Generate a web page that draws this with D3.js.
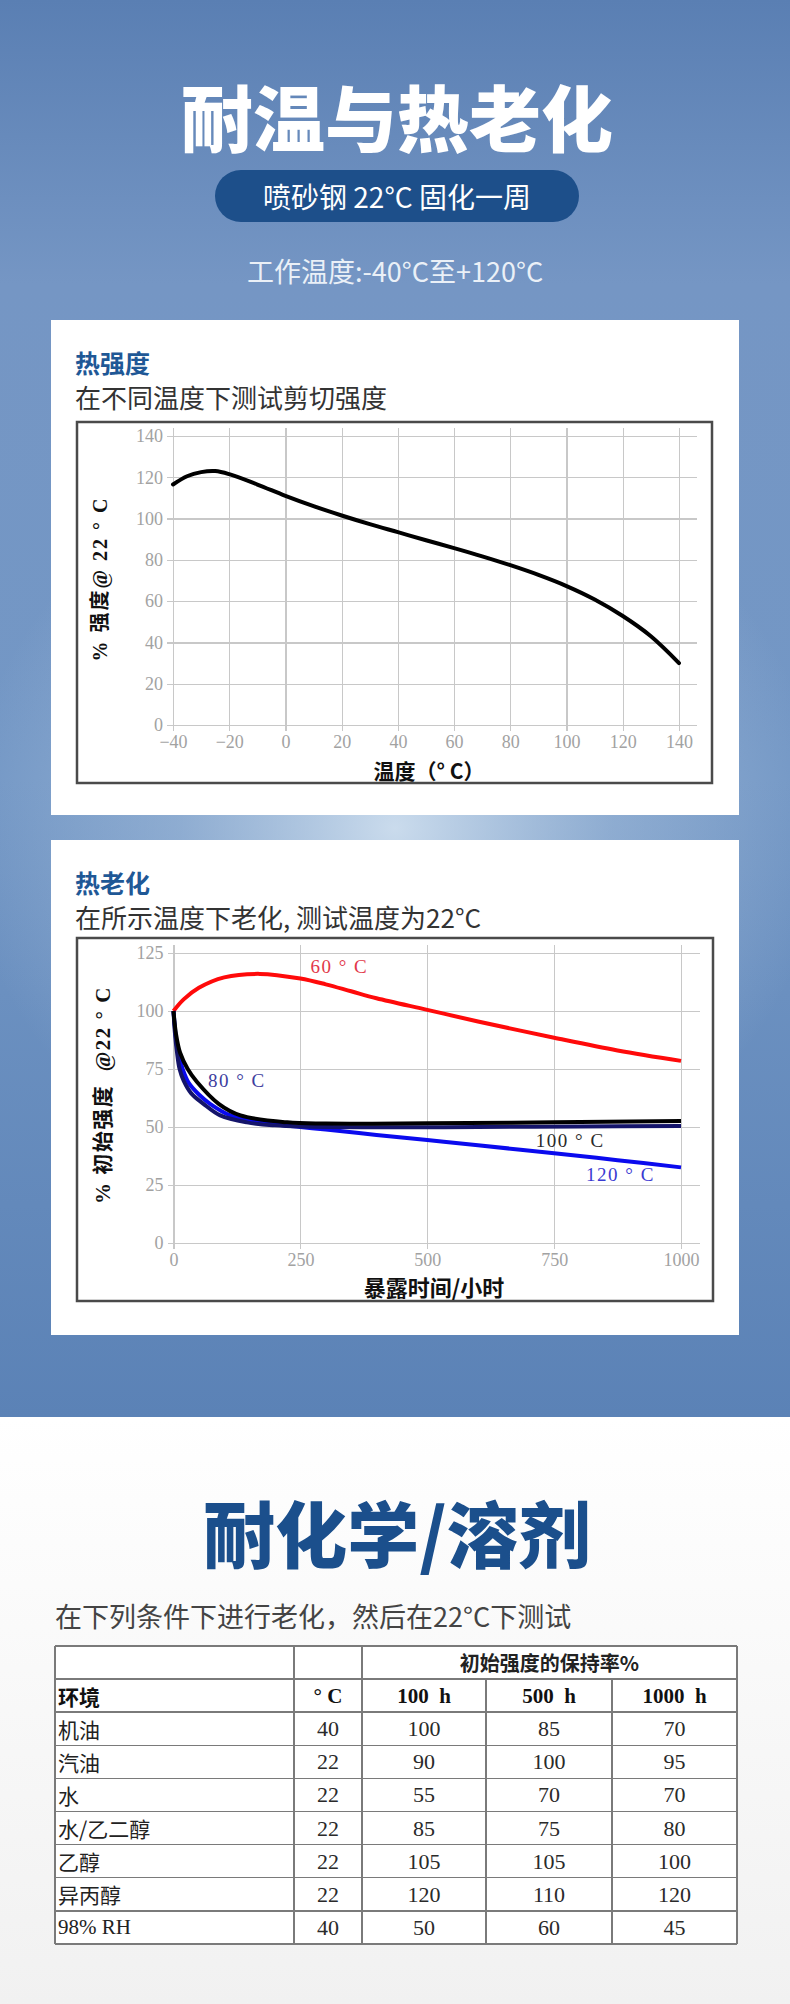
<!doctype html>
<html>
<head>
<meta charset="utf-8">
<title>耐温与热老化</title>
<script src="https://d3js.org/d3.v7.min.js"></script>
<style>
    body {margin:0; background:#fff;}
    svg {display:block;}
    text {white-space:pre;}
    .cjk {font-family:"Noto Sans CJK SC", "Noto Sans", sans-serif;}
    .serif {font-family:"Liberation Serif", "DejaVu Serif", "Noto Sans CJK SC", serif;}
    .axis line {stroke:#c8c8c8; stroke-width:1.2; shape-rendering:crispEdges;}
    .axis text {fill:#a2a2a2; font-size:18px; font-family:"Liberation Serif", "DejaVu Serif", serif;}
    .tbl line {stroke:#7a7a7a; stroke-width:1.5; shape-rendering:crispEdges;}
</style>
</head>
<body>
<script>
"use strict";
var W = 790, H = 2004;

// 热强度 - strength vs test temperature
var heatTemp = [-40, -35, -30, -25, -20, -10, 0, 10, 20, 30, 40, 50, 60, 70, 80, 90, 100, 110, 120, 130, 140];
var heatStrength = [116.5, 120.5, 122.5, 123, 121.5, 116.5, 111, 106, 101.5, 97.3, 93.4, 89.5, 85.7, 81.7, 77.4, 72.7, 67.3, 60.8, 52.8, 43, 30];
var heatXTicks = [-40, -20, 0, 20, 40, 60, 80, 100, 120, 140];
var heatYTicks = [0, 20, 40, 60, 80, 100, 120, 140];

// 热老化 - retained strength vs exposure hours
var age60Hours = [0, 20, 50, 100, 170, 250, 300, 350, 400, 500, 600, 750, 875, 1000];
var age60Values = [100, 105, 110, 114.5, 116, 114, 111.5, 108.5, 105.5, 100.5, 95.5, 88.5, 83, 78.5];
var age80Hours = [0, 3, 7, 12, 20, 35, 59, 92, 145, 200, 250, 400, 600, 800, 1000];
var age80Values = [100, 90, 82, 75, 70, 64.5, 60, 55, 52, 50.7, 50.2, 49.9, 50, 50.2, 50.4];
var age100Hours = [0, 5, 13, 28, 46, 89, 132, 224, 300, 500, 750, 1000];
var age100Values = [100, 90, 82, 75, 69.5, 60, 55, 52, 51.5, 51.6, 52, 52.6];
var age120Hours = [0, 4, 9, 18, 30, 50, 72, 112, 171, 250, 300, 400, 500, 600, 750, 875, 1000];
var age120Values = [100, 90, 82, 75, 69, 64, 60, 55, 52, 50, 48.9, 46.6, 44.4, 42.1, 38.7, 35.7, 32.6];
var ageNames = ["60 ° C", "80 ° C", "100 ° C", "120 ° C"];
var ageLabelHours = [270, 68, 714, 813];
var ageLabelValues = [119, 70, 44, 29.5];
var ageXTicks = [0, 250, 500, 750, 1000];
var ageYTicks = [0, 25, 50, 75, 100, 125];

// 耐化学/溶剂 table
var envNames = ["机油", "汽油", "水", "水/乙二醇", "乙醇", "异丙醇", "98% RH"];
var envTemps = [40, 22, 22, 22, 22, 22, 40];
var keep100h = [100, 90, 55, 85, 105, 120, 50];
var keep500h = [85, 100, 70, 75, 105, 110, 60];
var keep1000h = [70, 95, 70, 80, 100, 120, 45];
var tableHead = ["环境", "° C", "100  h", "500  h", "1000  h"];

var svg = d3.select("body").append("svg").attr("width", W).attr("height", H);
var defs = svg.append("defs");

var lin = defs.append("linearGradient").attr("id", "bgLin").attr("x1", 0).attr("y1", 0).attr("x2", 0).attr("y2", 1);
lin.append("stop").attr("offset", 0).attr("stop-color", "#5a7fb3");
lin.append("stop").attr("offset", 0.2).attr("stop-color", "#7596c4");
lin.append("stop").attr("offset", 0.55).attr("stop-color", "#7397c5");
lin.append("stop").attr("offset", 1).attr("stop-color", "#5b82b6");

var rad = defs.append("radialGradient").attr("id", "bgRad").attr("gradientUnits", "userSpaceOnUse")
    .attr("cx", 395).attr("cy", 828).attr("r", 430)
    .attr("gradientTransform", "translate(395,828) scale(1,0.9) translate(-395,-828)");
rad.append("stop").attr("offset", 0).attr("stop-color", "#d4e3f1").attr("stop-opacity", 0.9);
rad.append("stop").attr("offset", 0.5).attr("stop-color", "#c4d7ea").attr("stop-opacity", 0.35);
rad.append("stop").attr("offset", 1).attr("stop-color", "#c4d7ea").attr("stop-opacity", 0);

var low = defs.append("linearGradient").attr("id", "bgLow").attr("x1", 0).attr("y1", 0).attr("x2", 0).attr("y2", 1);
low.append("stop").attr("offset", 0).attr("stop-color", "#ffffff");
low.append("stop").attr("offset", 1).attr("stop-color", "#f1f1f1");

svg.append("rect").attr("width", W).attr("height", 1417).attr("fill", "url(#bgLin)");
svg.append("rect").attr("width", W).attr("height", 1417).attr("fill", "url(#bgRad)");
svg.append("rect").attr("y", 1417).attr("width", W).attr("height", H - 1417).attr("fill", "url(#bgLow)");

// header
svg.append("text").attr("class", "cjk").attr("x", 397).attr("y", 114)
    .attr("text-anchor", "middle").attr("dominant-baseline", "central")
    .attr("font-size", 72).attr("font-weight", 900).attr("fill", "#fff").text("耐温与热老化");
svg.append("rect").attr("x", 215).attr("y", 170).attr("width", 364).attr("height", 52).attr("rx", 26)
    .attr("fill", "#1d4f8a");
svg.append("text").attr("class", "cjk").attr("x", 397).attr("y", 196)
    .attr("text-anchor", "middle").attr("dominant-baseline", "central")
    .attr("font-size", 28).attr("fill", "#fff").text("喷砂钢 22°C 固化一周");
svg.append("text").attr("class", "cjk").attr("x", 395).attr("y", 270)
    .attr("text-anchor", "middle").attr("dominant-baseline", "central")
    .attr("font-size", 27).attr("fill", "#eaf0f7").text("工作温度:-40°C至+120°C");

function card(top, title, sub) {
    svg.append("rect").attr("x", 51).attr("y", top).attr("width", 688).attr("height", 495).attr("fill", "#fff");
    svg.append("text").attr("class", "cjk").attr("x", 75).attr("y", top + 42)
        .attr("dominant-baseline", "central").attr("font-size", 25).attr("font-weight", 700)
        .attr("fill", "#1f5896").text(title);
    svg.append("text").attr("class", "cjk").attr("x", 75).attr("y", top + 76)
        .attr("dominant-baseline", "central").attr("font-size", 26)
        .attr("fill", "#333").text(sub);
}

function chart(o) {
    var g = svg.append("g");
    g.append("rect").attr("x", o.frame[0]).attr("y", o.frame[1]).attr("width", o.frame[2]).attr("height", o.frame[3])
        .attr("fill", "#fff").attr("stroke", "#4a4a4a").attr("stroke-width", 2.5);
    var x = d3.scaleLinear().domain(o.xDomain).range(o.xRange);
    var y = d3.scaleLinear().domain(o.yDomain).range(o.yRange);
    var gridW = o.gridRight - o.xRange[0];
    var gridH = o.yRange[0] - o.yRange[1] + 8;

    var ya = g.append("g").attr("class", "axis").attr("transform", "translate(" + o.xRange[0] + ",0)")
        .call(d3.axisLeft(y).tickValues(o.yTicks).tickFormat(d3.format("d")).tickSize(-gridW).tickPadding(10));
    ya.select(".domain").remove();
    ya.selectAll(".tick line").attr("x1", -6);

    var xa = g.append("g").attr("class", "axis").attr("transform", "translate(0," + o.yRange[0] + ")")
        .call(d3.axisBottom(x).tickValues(o.xTicks).tickFormat(d3.format("d")).tickSize(-gridH).tickPadding(10));
    xa.select(".domain").remove();
    xa.selectAll(".tick line").attr("y1", 6);

    g.append("text").attr("class", "cjk").attr("x", o.xTitle[0]).attr("y", o.xTitle[1])
        .attr("text-anchor", "middle").attr("dominant-baseline", "central")
        .attr("font-size", o.xTitle[2]).attr("font-weight", 700).attr("fill", "#111").text(o.xTitle[3]);
    g.append("text").attr("class", "serif")
        .attr("transform", "translate(" + o.yTitle[0] + "," + o.yTitle[1] + ") rotate(-90)")
        .attr("text-anchor", "middle").attr("dominant-baseline", "central")
        .attr("font-size", o.yTitle[2]).attr("font-weight", 700).attr("letter-spacing", o.yTitle[4])
        .attr("fill", "#111").text(o.yTitle[3]);
    return {g: g, x: x, y: y};
}

var smooth = d3.curveCatmullRom.alpha(0.5);

// chart 1
card(320, "热强度", "在不同温度下测试剪切强度");
var c1 = chart({
    frame: [77, 422, 635, 361],
    xDomain: [-40, 140], xRange: [173, 679],
    yDomain: [0, 140], yRange: [725, 436],
    gridRight: 697, xTicks: heatXTicks, yTicks: heatYTicks,
    xTitle: [429, 770, 21, "温度（° C）"],
    yTitle: [100, 579, 20, "% 强度@ 22 ° C", 2]
});
var line1 = d3.line().curve(smooth)
    .x(function(d, i) { return c1.x(heatTemp[i]); })
    .y(function(d) { return c1.y(d); });
c1.g.append("path").datum(heatStrength).attr("d", line1)
    .attr("fill", "none").attr("stroke", "#000").attr("stroke-width", 4).attr("stroke-linecap", "round");

// chart 2
card(840, "热老化", "在所示温度下老化, 测试温度为22°C");
var c2 = chart({
    frame: [77, 938, 636, 363],
    xDomain: [0, 1000], xRange: [173.5, 681],
    yDomain: [0, 125], yRange: [1243, 953],
    gridRight: 700, xTicks: ageXTicks, yTicks: ageYTicks,
    xTitle: [434, 1286, 22, "暴露时间/小时"],
    yTitle: [103, 1095, 21, "% 初始强度  @22 ° C", 1.5]
});
var ageHours = [age60Hours, age120Hours, age80Hours, age100Hours];
var ageValues = [age60Values, age120Values, age80Values, age100Values];
var ageColors = ["#ff0a0a", "#0a0aee", "#14146a", "#000"];
ageValues.forEach(function(vals, k) {
    var line = d3.line().curve(smooth)
        .x(function(d, i) { return c2.x(ageHours[k][i]); })
        .y(function(d) { return c2.y(d); });
    c2.g.append("path").datum(vals).attr("d", line)
        .attr("fill", "none").attr("stroke", ageColors[k]).attr("stroke-width", 4);
});
var labelColors = ["#e2384a", "#3d3d9e", "#2a2a2a", "#3a3ad2"];
c2.g.selectAll(".lbl").data(ageNames).enter().append("text")
    .attr("class", "serif")
    .attr("x", function(d, i) { return c2.x(ageLabelHours[i]); })
    .attr("y", function(d, i) { return c2.y(ageLabelValues[i]); })
    .attr("dominant-baseline", "central").attr("font-size", 19).attr("letter-spacing", 1.5)
    .attr("fill", function(d, i) { return labelColors[i]; })
    .text(function(d) { return d; });

// 耐化学/溶剂
svg.append("text").attr("class", "cjk").attr("x", 397).attr("y", 1530)
    .attr("text-anchor", "middle").attr("dominant-baseline", "central")
    .attr("font-size", 72).attr("font-weight", 900).attr("fill", "#1b4f8c").text("耐化学/溶剂");
svg.append("text").attr("class", "cjk").attr("x", 55).attr("y", 1615)
    .attr("dominant-baseline", "central").attr("font-size", 27)
    .attr("fill", "#444").text("在下列条件下进行老化，然后在22°C下测试");

var colX = [55, 294, 362, 486, 612, 737];
var rowTop = 1646, rowH = 33.1, nRows = envNames.length + 2;
var tbl = svg.append("g").attr("class", "tbl");
tbl.append("rect").attr("x", colX[0]).attr("y", rowTop).attr("width", colX[5] - colX[0]).attr("height", rowH * nRows)
    .attr("fill", "#fff");
tbl.selectAll(".hl").data(d3.range(nRows + 1)).enter().append("line")
    .attr("x1", colX[0]).attr("x2", colX[5])
    .attr("y1", function(d) { return rowTop + d * rowH; })
    .attr("y2", function(d) { return rowTop + d * rowH; });
tbl.selectAll(".vl").data(colX).enter().append("line")
    .attr("x1", function(d) { return d; }).attr("x2", function(d) { return d; })
    .attr("y1", function(d, i) { return (i === 3 || i === 4) ? rowTop + rowH : rowTop; })
    .attr("y2", rowTop + rowH * nRows);

function cellMid(c) { return (colX[c] + colX[c + 1]) / 2; }
function rowMid(r) { return rowTop + rowH * r + rowH / 2; }

tbl.append("text").attr("class", "cjk").attr("x", (colX[2] + colX[5]) / 2).attr("y", rowMid(0))
    .attr("text-anchor", "middle").attr("dominant-baseline", "central")
    .attr("font-size", 20).attr("font-weight", 700).attr("fill", "#222").text("初始强度的保持率%");
tbl.selectAll(".hd").data(tableHead).enter().append("text")
    .attr("class", function(d, i) { return i === 0 ? "cjk" : "serif"; })
    .attr("x", function(d, i) { return i === 0 ? colX[0] + 3 : cellMid(i); })
    .attr("y", rowMid(1))
    .attr("text-anchor", function(d, i) { return i === 0 ? "start" : "middle"; })
    .attr("dominant-baseline", "central").attr("font-size", 21).attr("font-weight", 700)
    .attr("fill", "#111").text(function(d) { return d; });

var rows = tbl.selectAll(".row").data(envNames).enter().append("g");
rows.append("text")
    .attr("class", function(d) { return /^[\x00-\x7f]+$/.test(d) ? "serif" : "cjk"; })
    .attr("x", colX[0] + 3).attr("y", function(d, i) { return rowMid(i + 2); })
    .attr("dominant-baseline", "central").attr("font-size", 21).attr("fill", "#222")
    .text(function(d) { return d; });
[envTemps, keep100h, keep500h, keep1000h].forEach(function(col, c) {
    rows.append("text").attr("class", "serif")
        .attr("x", cellMid(c + 1)).attr("y", function(d, i) { return rowMid(i + 2); })
        .attr("text-anchor", "middle").attr("dominant-baseline", "central")
        .attr("font-size", 22).attr("fill", "#2a2a2a")
        .text(function(d, i) { return col[i]; });
});
</script>
</body>
</html>
